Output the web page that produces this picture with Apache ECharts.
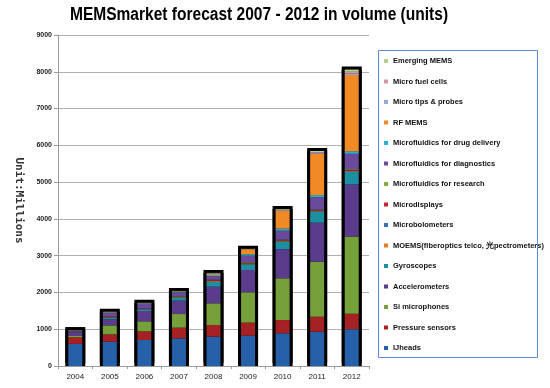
<!DOCTYPE html>
<html><head><meta charset="utf-8">
<script src="https://cdn.jsdelivr.net/npm/echarts@6/dist/echarts.min.js"></script>
<style>html,body{margin:0;padding:0;background:#fff}#c{width:550px;height:388px}</style>
</head><body><div id="c"></div>
<script>
const years = ['2004','2005','2006','2007','2008','2009','2010','2011','2012'];
const ijHeads         = [600, 660, 707, 753, 800, 825, 890, 933, 1000];
const pressureSensors = [180, 200, 236, 290, 315, 355, 360, 407, 420];
const siMicrophones   = [35, 245, 272, 370, 590, 825, 1135, 1496, 2100];
const accelerometers  = [100, 165, 280, 363, 450, 605, 790, 1060, 1420];
const gyroscopes      = [5, 35, 45, 90, 136, 155, 205, 300, 340];
const moems           = [5, 10, 5, 10, 20, 20, 15, 15, 20];
const microbolometers = [3, 5, 3, 5, 10, 10, 10, 10, 15];
const microdisplays   = [5, 10, 5, 10, 15, 15, 15, 15, 15];
const mfResearch      = [3, 10, 5, 10, 10, 15, 15, 15, 20];
const mfDiagnostics   = [30, 100, 130, 100, 100, 175, 245, 340, 420];
const mfDrugDelivery  = [3, 15, 10, 15, 30, 40, 55, 55, 70];
const rfMems          = [5, 10, 10, 15, 40, 135, 480, 1125, 2070];
const microTips       = [2, 5, 5, 5, 10, 5, 20, 25, 40];
const microFuelCells  = [0, 0, 0, 0, 0, 0, 15, 20, 50];
const emergingMems    = [2, 5, 5, 5, 5, 5, 20, 30, 60];
const yTicks = [0,1000,2000,3000,4000,5000,6000,7000,8000,9000];

const seriesNames = ['IJheads','Pressure sensors','Si microphones','Accelerometers','Gyroscopes',
  'MOEMS(fiberoptics telco, \u5149pectrometers)','Microbolometers','Microdisplays','Microfluidics for research',
  'Microfluidics for diagnostics','Microfluidics for drug delivery','RF MEMS','Micro tips & probes',
  'Micro fuel cells','Emerging MEMS'];
const seriesData = [ijHeads,pressureSensors,siMicrophones,accelerometers,gyroscopes,moems,microbolometers,
  microdisplays,mfResearch,mfDiagnostics,mfDrugDelivery,rfMems,microTips,microFuelCells,emergingMems];
const seriesColors = ['#2560a8','#a52124','#76a03a','#5a3b8c','#1c8fa3','#e27a26','#3a6fb5','#c3272b',
  '#80a93e','#6a4a9b','#2ab0d0','#f18a25','#97a9d6','#d59aa1','#b7d090'];

const totals = years.map((_, i) => seriesData.reduce((s, arr) => s + arr[i], 0));

const chart = echarts.init(document.getElementById('c'), null, {renderer:'canvas'});
const sans = 'Liberation Sans, Arial, sans-serif';
const series = [{
  name:'_total', type:'bar', xAxisIndex:1, data: totals, barWidth:20, z:1, silent:true,
  itemStyle:{color:'#000', shadowColor:'#000', shadowBlur:0, shadowOffsetX:0, shadowOffsetY:-3}
}];
seriesNames.forEach((n, k) => series.push({
  name:n, type:'bar', stack:'all', data: seriesData[k], barWidth:14, z:2,
  itemStyle:{color: seriesColors[k]}
}));

chart.setOption({
  animation:false,
  backgroundColor:'#fff',
  graphic:[
    {type:'rect', shape:{x:378.5,y:50.5,width:159,height:307},
      style:{fill:'none', stroke:'#5b8bd0', lineWidth:1}, z:10},
    {type:'text', x:259, y:15, scaleX:0.863, z:10,
      style:{text:'MEMSmarket forecast 2007 - 2012 in volume (units)', font:'bold 18px ' + sans,
        fill:'#000', textAlign:'center', textVerticalAlign:'middle'}}
  ],
  legend:{orient:'vertical', left:379, top:51, itemWidth:4, itemHeight:4, itemGap:10.5,
    data: seriesNames.slice().reverse().map(n=>({name:n, icon:'rect'})),
    textStyle:{fontFamily:sans, fontSize:7.5, lineHeight:10, color:'#111', fontWeight:'bold'}},
  grid:{left:58, right:181, top:35, bottom:22},
  xAxis:[{type:'category', data:years, boundaryGap:true,
    axisLine:{lineStyle:{color:'#9a9a9a'}}, axisTick:{show:true, length:3, lineStyle:{color:'#9a9a9a'}},
    axisLabel:{fontSize:8, margin:7, color:'#222', fontFamily:sans}},
   {type:'category', data:years, show:false}],
  yAxis:{type:'value', min:0, max:9000, interval:1000,
    name:'Unit:Millions', nameLocation:'middle', nameRotate:-90, nameGap:34,
    nameTextStyle:{fontFamily:'DejaVu Sans Mono', fontWeight:'bold', fontSize:11, color:'#333'},
    axisLine:{show:true, lineStyle:{color:'#9a9a9a'}}, axisTick:{show:true, length:4, lineStyle:{color:'#9a9a9a'}},
    splitLine:{lineStyle:{color:'#b0b0b0'}},
    axisLabel:{fontSize:7, fontWeight:'bold', margin:6, color:'#222', fontFamily:sans,
      formatter: v => yTicks.includes(v) ? String(v) : ''}},
  series: series
});
</script></body></html>
